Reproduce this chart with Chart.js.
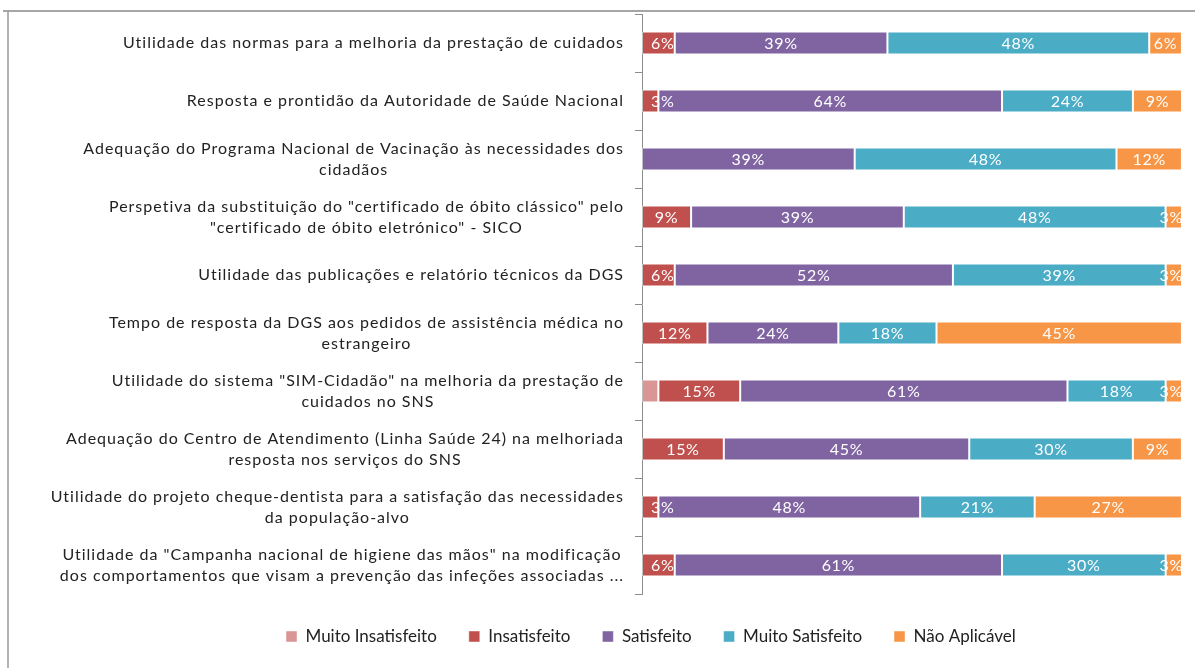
<!DOCTYPE html>
<html>
<head>
<meta charset="utf-8">
<script src="https://cdn.jsdelivr.net/npm/chart.js@4"></script>
<style>
  body { margin: 0; background: #fff; }
  canvas { display: block; }
</style>
</head>
<body>
<canvas id="satChart" width="1195" height="668"></canvas>
<script>
const categories = [
    'Utilidade das normas para a melhoria da prestação de cuidados',
    'Resposta e prontidão da Autoridade de Saúde Nacional',
    ['Adequação do Programa Nacional de Vacinação às necessidades dos', 'cidadãos'],
    ['Perspetiva da substituição do "certificado de óbito clássico" pelo', '"certificado de óbito eletrónico" - SICO'],
    'Utilidade das publicações e relatório técnicos da DGS',
    ['Tempo de resposta da DGS aos pedidos de assistência médica no', 'estrangeiro'],
    ['Utilidade do sistema "SIM-Cidadão" na melhoria da prestação de', 'cuidados no SNS'],
    ['Adequação do Centro de Atendimento (Linha Saúde 24) na melhoriada', 'resposta nos serviços do SNS'],
    ['Utilidade do projeto cheque-dentista para a satisfação das necessidades', 'da população-alvo'],
    ['Utilidade da "Campanha nacional de higiene das mãos" na modificação', 'dos comportamentos que visam a prevenção das infeções associadas ...']
];

const seriesNames = ['Muito Insatisfeito', 'Insatisfeito', 'Satisfeito', 'Muito Satisfeito', 'Não Aplicável'];
const seriesColors = ['#D99694', '#C0504D', '#8064A2', '#4BACC6', '#F79646'];

// percentages per category
const muitoInsatisfeito = [0, 0, 0, 0, 0, 0, 3.03, 0, 0, 0];
const insatisfeito      = [6.06, 3.03, 0, 9.09, 6.06, 12.12, 15.15, 15.15, 3.03, 6.06];
const satisfeito        = [39.39, 63.64, 39.39, 39.39, 51.52, 24.24, 60.61, 45.45, 48.48, 60.61];
const muitoSatisfeito   = [48.48, 24.24, 48.48, 48.48, 39.39, 18.18, 18.18, 30.30, 21.21, 30.30];
const naoAplicavel      = [6.06, 9.09, 12.12, 3.03, 3.03, 45.45, 3.03, 9.09, 27.27, 3.03];

const seriesValues = [muitoInsatisfeito, insatisfeito, satisfeito, muitoSatisfeito, naoAplicavel];
const showValueLabels = [false, true, true, true, true];

const labelFont = '16px Lato, "Open Sans", sans-serif';

// gray frame round the chart
const framePlugin = {
    id: 'frame',
    beforeDraw(chart) {
        const ctx = chart.ctx;
        ctx.save();
        ctx.strokeStyle = '#a6a6a6';
        ctx.lineWidth = 2;
        ctx.beginPath();
        ctx.moveTo(3, 11);
        ctx.lineTo(chart.width, 11);
        ctx.stroke();
        ctx.lineWidth = 1.5;
        ctx.strokeStyle = '#9a9a9a';
        ctx.beginPath();
        ctx.moveTo(8, 11);
        ctx.lineTo(8, chart.height);
        ctx.stroke();
        ctx.restore();
    }
};

// category labels: block right aligned, lines centred inside the block
const categoryLabelPlugin = {
    id: 'categoryLabels',
    afterDraw(chart) {
        const ctx = chart.ctx;
        const yScale = chart.scales.y;
        const right = yScale.right - 18;
        ctx.save();
        ctx.font = labelFont;
        ctx.letterSpacing = '1px';
        ctx.fillStyle = '#222';
        ctx.textBaseline = 'middle';
        ctx.textAlign = 'center';
        chart.data.labels.forEach((label, i) => {
            const lines = Array.isArray(label) ? label : [label];
            const maxW = Math.max(...lines.map(l => ctx.measureText(l).width));
            const cx = right - maxW / 2;
            const cy = yScale.getPixelForTick(i);
            const lh = 21;
            lines.forEach((line, j) => {
                ctx.fillText(line, cx, cy + (j - (lines.length - 1) / 2) * lh);
            });
        });
        ctx.restore();
    }
};

// white percentage labels inside the bar segments
const valueLabelPlugin = {
    id: 'valueLabels',
    afterDatasetsDraw(chart) {
        const ctx = chart.ctx;
        const area = chart.chartArea;
        ctx.save();
        ctx.font = labelFont;
        ctx.letterSpacing = '0.7px';
        ctx.fillStyle = '#fff';
        ctx.textBaseline = 'middle';
        ctx.textAlign = 'center';
        chart.data.datasets.forEach((ds, d) => {
            if (!showValueLabels[d]) return;
            const meta = chart.getDatasetMeta(d);
            meta.data.forEach((bar, i) => {
                const v = ds.data[i];
                if (!v) return;
                const text = Math.round(v) + '%';
                const w = ctx.measureText(text).width;
                const p = bar.getProps(['x', 'y', 'base'], true);
                let cx = (p.x + p.base) / 2;
                cx = Math.max(area.left + 9 + w / 2, Math.min(area.right - w / 2 + 1, cx));
                ctx.fillText(text, cx, p.y + 1);
            });
        });
        ctx.restore();
    }
};

// legend starts further right than a full width legend would
const legendShiftPlugin = {
    id: 'legendShift',
    afterLayout(chart) {
        chart.legend.left = 286 - chart.options.plugins.legend.labels.padding;
    }
};

const ctx = document.getElementById('satChart').getContext('2d');
new Chart(ctx, {
    type: 'bar',
    data: {
        labels: categories,
        datasets: seriesNames.map((name, k) => ({
            label: name,
            data: seriesValues[k],
            backgroundColor: seriesColors[k],
            borderColor: 'rgba(255,255,255,0.45)',
            borderWidth: 1,
            borderSkipped: false,
            barPercentage: 0.4,
            categoryPercentage: 1
        }))
    },
    options: {
        indexAxis: 'y',
        responsive: false,
        devicePixelRatio: 1,
        animation: false,
        layout: {
            padding: { top: 14, right: 13, left: 0, bottom: 13 }
        },
        scales: {
            x: {
                stacked: true,
                min: 0,
                max: 100,
                ticks: { display: false },
                grid: { display: false },
                border: { display: false },
                afterFit: scale => { scale.height = 2; }
            },
            y: {
                stacked: true,
                ticks: { display: false },
                grid: {
                    offset: true,
                    drawOnChartArea: false,
                    drawTicks: true,
                    tickLength: 7,
                    color: '#8c8c8c'
                },
                border: { display: true, color: '#8c8c8c', width: 1 },
                afterFit: scale => { scale.width = 642; }
            }
        },
        plugins: {
            legend: {
                position: 'bottom',
                align: 'start',
                labels: {
                    boxWidth: 11,
                    boxHeight: 11,
                    padding: 32,
                    color: '#222',
                    font: { family: 'Lato', size: 17 }
                }
            },
            tooltip: { enabled: false }
        }
    },
    plugins: [framePlugin, categoryLabelPlugin, valueLabelPlugin, legendShiftPlugin]
});
</script>
</body>
</html>
